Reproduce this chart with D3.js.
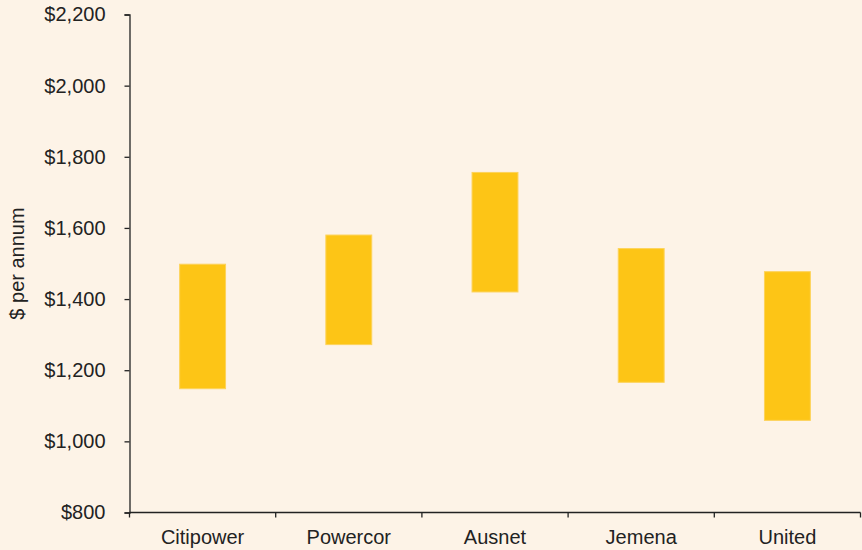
<!DOCTYPE html>
<html>
<head>
<meta charset="utf-8">
<script src="https://cdn.jsdelivr.net/npm/d3@7"></script>
<style>
  html, body { margin: 0; padding: 0; background: #FDF3E7; }
  svg { display: block; }
  text { font-family: "Liberation Sans", Arial, sans-serif; fill: #222; }
</style>
</head>
<body>
<svg id="chart" width="862" height="550"></svg>
<script>
const categories = ["Citipower", "Powercor", "Ausnet", "Jemena", "United"];
const lowValues  = [1148, 1272, 1420, 1166, 1059];
const highValues = [1498, 1580, 1756, 1542, 1477];
const yTicks = [800, 1000, 1200, 1400, 1600, 1800, 2000, 2200];
const yTitle = "$ per annum";

const svg = d3.select("#chart");
const W = 862, H = 550;
const margin = {left: 129.5, right: 1.5, top: 14.5, bottom: 37.5};

svg.append("rect").attr("width", W).attr("height", H).attr("fill", "#FDF3E7");

const x = d3.scaleBand()
  .domain(categories)
  .range([margin.left, W - margin.right])
  .paddingInner(0.686).paddingOuter(0.343);

const y = d3.scaleLinear()
  .domain([800, 2200])
  .range([H - margin.bottom, margin.top]);

const data = categories.map((c, i) => ({c, lo: lowValues[i], hi: highValues[i]}));

svg.append("g").selectAll("rect").data(data).join("rect")
  .attr("x", d => x(d.c))
  .attr("width", x.bandwidth())
  .attr("y", d => y(d.hi))
  .attr("height", d => y(d.lo) - y(d.hi))
  .attr("fill", "#FDC516")
  .attr("stroke", "#FDD35A")
  .attr("stroke-width", 1);

const fmt = v => "$" + d3.format(",")(v);

const yAxis = svg.append("g")
  .attr("transform", `translate(${margin.left},0)`)
  .call(d3.axisLeft(y).tickValues(yTicks).tickFormat(fmt).tickSize(5).tickPadding(19));
yAxis.selectAll("text").style("font-size", "20px").attr("fill", "#222");

// x axis with ticks at band boundaries
const xg = svg.append("g").attr("transform", `translate(0,${H - margin.bottom})`);
const xRange = x.range();
const step = (xRange[1] - xRange[0]) / categories.length;
xg.append("line")
  .attr("x1", xRange[0]).attr("x2", xRange[1])
  .attr("y1", 0).attr("y2", 0)
  .attr("stroke", "#222").attr("stroke-width", 1.3);
xg.selectAll("line.tk").data(d3.range(categories.length + 1)).join("line")
  .attr("class", "tk")
  .attr("x1", i => xRange[0] + i * step).attr("x2", i => xRange[0] + i * step)
  .attr("y1", 0).attr("y2", 5)
  .attr("stroke", "#222").attr("stroke-width", 1.3);
xg.selectAll("text").data(categories).join("text")
  .attr("x", d => x(d) + x.bandwidth() / 2)
  .attr("y", 31)
  .attr("text-anchor", "middle")
  .style("font-size", "20px")
  .text(d => d);

yAxis.select(".domain").attr("stroke", "#222").attr("stroke-width", 1.3);
yAxis.selectAll(".tick line").attr("stroke", "#222").attr("stroke-width", 1.3);

svg.append("text")
  .attr("transform", `translate(23.5,${(y(800) + y(2200)) / 2}) rotate(-90)`)
  .attr("text-anchor", "middle")
  .style("font-size", "20px")
  .text(yTitle);
</script>
</body>
</html>
